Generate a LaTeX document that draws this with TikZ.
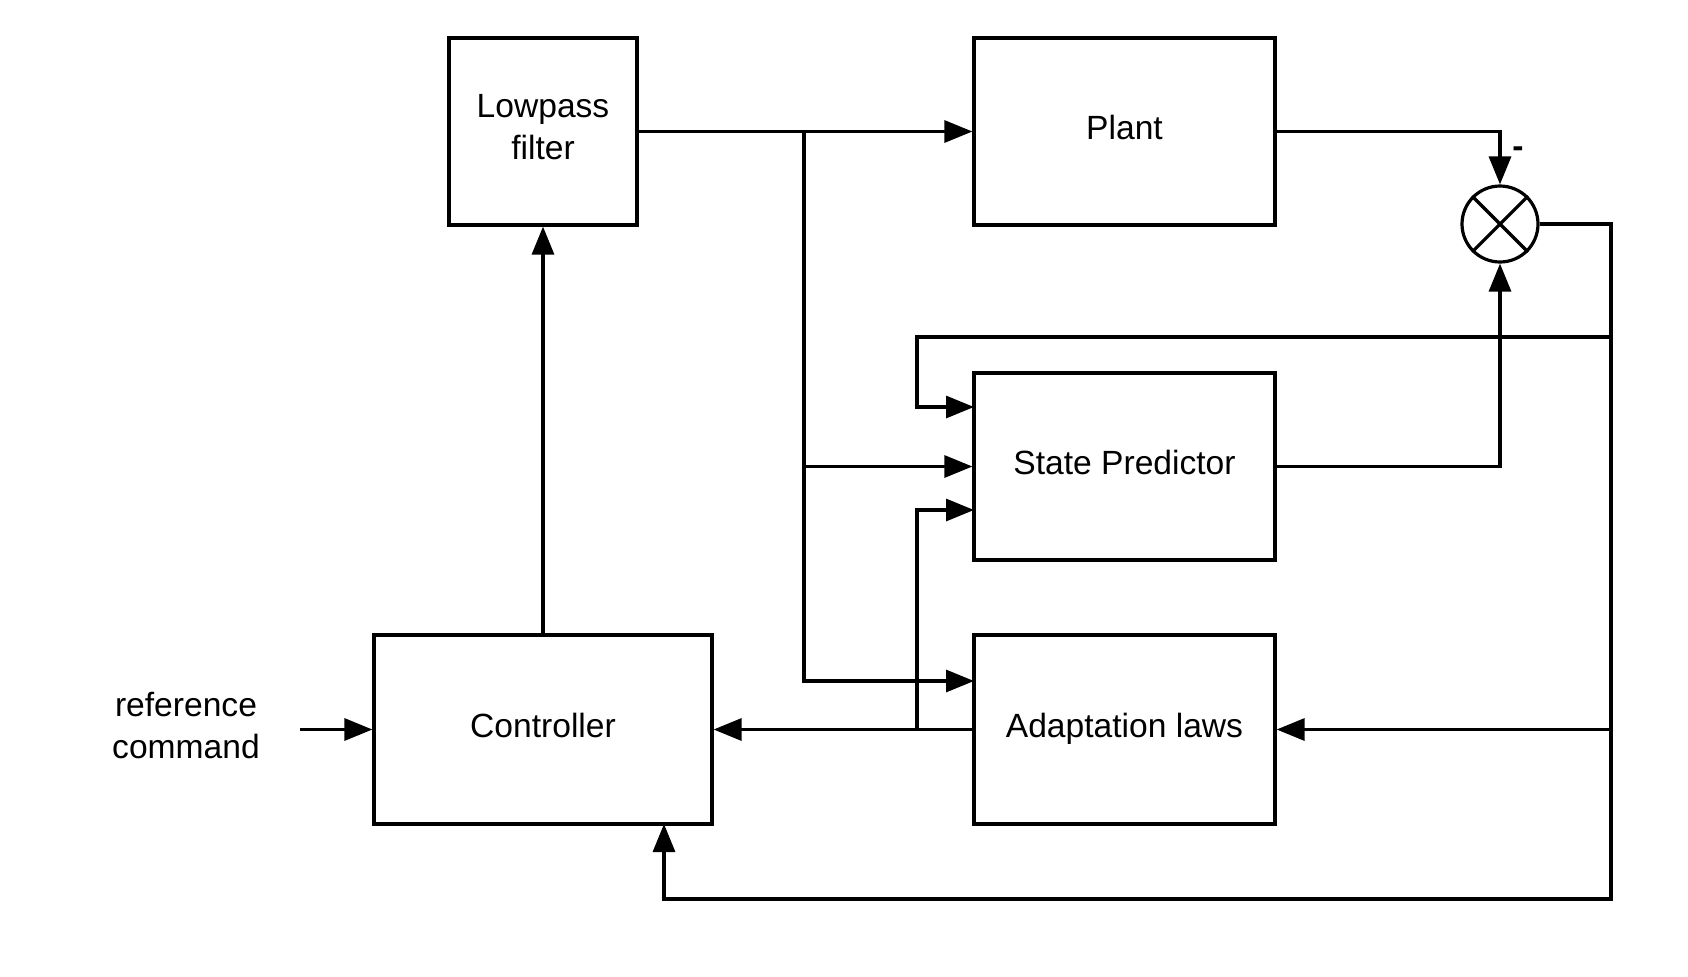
\documentclass[tikz,border=0pt]{standalone}
\usepackage{fontspec}
\setmainfont{Liberation Sans}
\usetikzlibrary{arrows.meta}

\begin{document}
\begin{tikzpicture}[x=0.5pt,y=-0.5pt]
\tikzset{myblock/.style={draw=black,line width=1.6pt,minimum width=150.5pt,minimum height=93.5pt,align=center,text depth=4.5pt,font=\fontsize{16.8}{21}\selectfont},
  myarrow/.style={line width=1.6pt,-{Triangle[length=14pt,width=11pt]}},
  mysum/.style={draw=black,line width=1.6pt,circle,minimum size=38pt,inner sep=0pt}}
\useasboundingbox (0,0) rectangle (1688,976);

\node[myblock,minimum width=94pt] (lp) at (543,131.5) {Lowpass\\filter};
\node[myblock] (plant) at (1124.5,131.5) {Plant};
\node[myblock] (sp) at (1124.5,466.5) {State Predictor};
\node[myblock,minimum width=169pt,minimum height=94.5pt] (ctrl) at (543,729.5) {Controller};
\node[myblock,minimum height=94.5pt] (ad) at (1124.5,729.5) {Adaptation laws};
\node[mysum] (sum) at (1500,224) {};
\draw[line width=1.6pt] (sum.north west) -- (sum.south east);
\draw[line width=1.6pt] (sum.north east) -- (sum.south west);
\node[align=center,font=\fontsize{16.8}{21}\selectfont] (ref) at (186,725) {reference\\command};
\node[font=\fontsize{16.8}{21}\selectfont\bfseries] (minus) at (1518,152.5) {-};

\coordinate (refout) at (300,729.5);
\coordinate (bus) at (804,131.5);
\coordinate (sptop) at (974,407);
\coordinate (splow) at (974,510);
\coordinate (adtop) at (974,681);
\coordinate (fbtop) at (1611,224);
\coordinate (fbsp) at (1611,337);
\coordinate (fbad) at (1611,729.5);
\coordinate (fbbot) at (1611,899);
\coordinate (ctrlin) at (664,824);
\coordinate (adsplit) at (917,729.5);

\draw[myarrow] (refout) -- (ctrl.west);
\draw[myarrow] (ctrl.north) -- (lp.south);
\draw[myarrow] (lp.east) -- (plant.west);
\draw[myarrow] (bus) |- (sp.west);
\draw[myarrow] (bus) |- (adtop);
\draw[myarrow] (plant.east) -| (sum.north);
\draw[myarrow] (sp.east) -| (sum.south);
\draw[myarrow] (sum.east) -- (fbtop) -- (fbbot) -| (ctrlin);
\draw[myarrow] (fbsp) -- (917,337) |- (sptop);
\draw[myarrow] (fbad) -- (ad.east);
\draw[myarrow] (ad.west) -- (ctrl.east);
\draw[myarrow] (adsplit) |- (splow);
    \end{tikzpicture}
\end{document}
